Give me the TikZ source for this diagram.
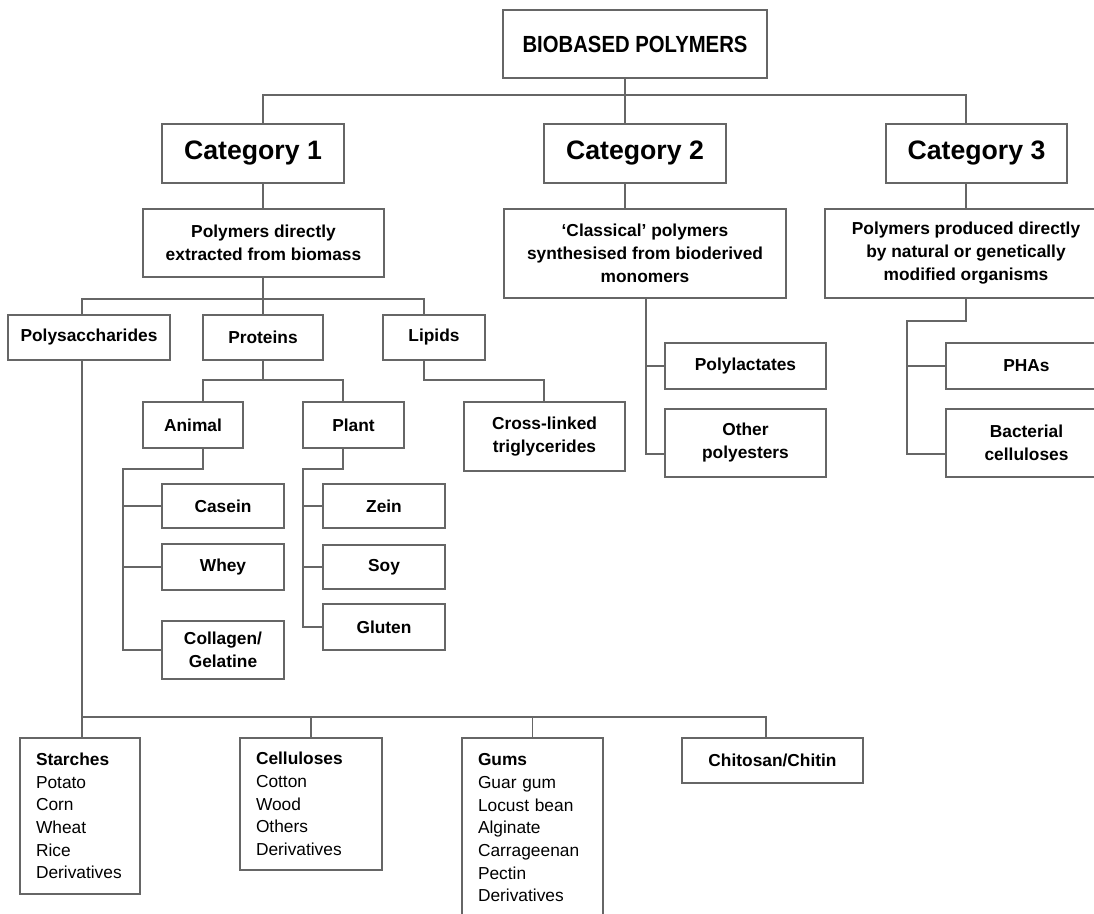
\documentclass[tikz,border=0pt]{standalone}
\usepackage{graphicx}
\usepackage{fontspec}
\setmainfont{Liberation Sans}
\usetikzlibrary{positioning, calc}

\tikzset{
    box/.style={draw=black!60, line width=0.9pt, align=center, inner sep=0pt,
        font=\fontsize{13}{17.25}\selectfont\bfseries},
    sz/.style 2 args={minimum width=#1*0.75pt, minimum height=#2*0.75pt},
    cat/.style={box, font=\fontsize{20}{24}\selectfont\bfseries},
    list/.style={box, align=left, inner xsep=12pt, font=\fontsize{13}{17}\selectfont},
    link/.style={draw=black!60, line width=0.9pt},
}

\begin{document}
\begin{tikzpicture}[x=0.75pt, y=-0.75pt]
    \useasboundingbox (0,0) rectangle (1094,913);
    \clip (0,0) rectangle (1094,913);

    % top levels
    \node[box, sz={264}{68}, font=\fontsize{17.5}{20}\selectfont\bfseries] (bio) at (635,44) {\scalebox{0.87}[1]{BIOBASED POLYMERS}};
    \node[cat, sz={182}{59}] (cat1) at (253,153.5) {Category 1};
    \node[cat, sz={182}{59}] (cat2) at (635,153.5) {Category 2};
    \node[cat, sz={181}{59}] (cat3) at (976.5,153.5) {Category 3};

    \node[box, sz={241}{68}] (direct) at (263.5,243) {Polymers directly\\extracted from biomass};
    \node[box, sz={282}{89}] (classic) at (645,253.5) {‘Classical’ polymers\\synthesised from bioderived\\monomers};
    \node[box, sz={282}{89}] (organ) at (966,253.5) {Polymers produced directly\\by natural or genetically\\modified organisms};

    % category 1
    \node[box, sz={162}{45}] (poly) at (89,337.5) {Polysaccharides};
    \node[box, sz={120}{45}] (prot) at (263,337.5) {Proteins};
    \node[box, sz={102}{45}] (lipid) at (434,337.5) {Lipids};

    \node[box, sz={100}{46}] (animal) at (193,425) {Animal};
    \node[box, sz={101}{46}] (plant) at (353.5,425) {Plant};
    \node[box, sz={161}{69}] (cross) at (544.5,436.5) {Cross-linked\\triglycerides};

    \node[box, sz={122}{44}] (casein) at (223,506) {Casein};
    \node[box, sz={122}{46}] (whey) at (223,567) {Whey};
    \node[box, sz={122}{58}] (collagen) at (223,650) {Collagen/\\Gelatine};
    \node[box, sz={122}{44}] (zein) at (384,506) {Zein};
    \node[box, sz={122}{44}] (soy) at (384,567) {Soy};
    \node[box, sz={122}{46}] (gluten) at (384,627) {Gluten};

    % category 2 and 3
    \node[box, sz={161}{46}] (polylac) at (745.5,366) {Polylactates};
    \node[box, sz={161}{68}] (otherpe) at (745.5,443) {Other\\polyesters};
    \node[box, sz={161}{46}] (pha) at (1026.5,366) {PHAs};
    \node[box, sz={161}{68}] (bact) at (1026.5,443) {Bacterial\\celluloses};

    % polysaccharides
    \node[list, sz={120}{156}, text width=66pt] (starch) at (80,816) {\textbf{Starches}\\Potato\\Corn\\Wheat\\Rice\\Derivatives};
    \node[list, sz={142}{132}, text width=82.5pt] (cellu) at (311,804) {\textbf{Celluloses}\\Cotton\\Wood\\Others\\Derivatives};
    \node[list, sz={141}{180}, text width=81.75pt] (gums) at (532.5,828) {\textbf{Gums}\\Guar gum\\Locust bean\\Alginate\\Carrageenan\\Pectin\\Derivatives};
    \node[box, sz={181}{45}] (chitin) at (772.5,760.5) {Chitosan/Chitin};

    % junctions
    \coordinate (busL) at (263,95);
    \coordinate (busM) at (625,95);
    \coordinate (busR) at (966,95);
    \coordinate (subL) at (82,299);
    \coordinate (subR) at (424,299);
    \coordinate (botL) at (82,717);
    \coordinate (botR) at (766,717);
    \coordinate (pbL) at (203,380);
    \coordinate (pbR) at (343,380);
    \coordinate (aC) at (203,469);
    \coordinate (aL) at (123,469);
    \coordinate (plC) at (343,469);
    \coordinate (plL) at (303,469);
    \coordinate (lpR) at (544,380);
    \coordinate (clB) at (646,454);
    \coordinate (orT) at (966,321);
    \coordinate (orL) at (907,321);
    \coordinate (orB) at (907,454);

    % connectors
    \draw[link] (bio.south -| busM) -- (cat2.north -| busM);
    \draw[link] (cat1.north -| busL) -- (busL) -- (busR) -- (cat3.north -| busR);
    \draw[link] (cat1.south -| busL) -- (direct.north -| busL);
    \draw[link] (cat2.south -| busM) -- (classic.north -| busM);
    \draw[link] (cat3.south -| busR) -- (organ.north -| busR);

    \draw[link] (direct.south -| prot.north) -- (prot.north);
    \draw[link] (poly.north -| subL) -- (subL) -- (subR) -- (lipid.north -| subR);

    \draw[link] (poly.south -| botL) -- (botL) -- (botR) -- (chitin.north -| botR);
    \draw[link] (botL) -- (starch.north -| botL);
    \draw[link] (cellu.north |- botL) -- (cellu.north);
    \draw[link] (gums.north |- botL) -- (gums.north);

    \draw[link] (prot.south) -- (prot.south |- pbL);
    \draw[link] (animal.north -| pbL) -- (pbL) -- (pbR) -- (plant.north -| pbR);

    \draw[link] (animal.south -| aC) -- (aC) -- (aL) |- (collagen.west);
    \draw[link] (aL |- casein.west) -- (casein.west);
    \draw[link] (aL |- whey.west) -- (whey.west);

    \draw[link] (plant.south -| plC) -- (plC) -- (plL) |- (gluten.west);
    \draw[link] (plL |- zein.west) -- (zein.west);
    \draw[link] (plL |- soy.west) -- (soy.west);

    \draw[link] (lipid.south -| subR) |- (lpR) -- (cross.north -| lpR);

    \draw[link] (classic.south -| clB) -- (clB) -- (clB -| otherpe.west);
    \draw[link] (clB |- polylac.west) -- (polylac.west);

    \draw[link] (organ.south -| orT) -- (orT) -- (orL) -- (orB) -- (orB -| bact.west);
    \draw[link] (orL |- pha.west) -- (pha.west);

\end{tikzpicture}
\end{document}
